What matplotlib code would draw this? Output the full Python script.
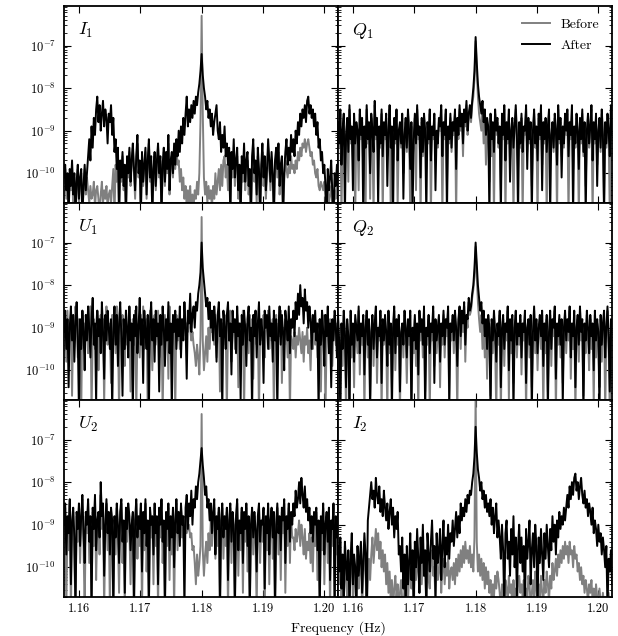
#!/usr/bin/env python

import matplotlib
matplotlib.use('Agg')
import matplotlib.pyplot as plt
import numpy as np

matplotlib.rcParams['font.family'] = 'serif'
matplotlib.rcParams['font.serif'] = ['cmr10', 'DejaVu Serif']
matplotlib.rcParams['mathtext.fontset'] = 'cm'
matplotlib.rcParams['axes.formatter.use_mathtext'] = True

TICKFONT = 9
LABELFONT = {'fontsize': 10}
PANELFONT = {'fontsize': 13}

# frequency grid of the spectra (Hz)
FREQ_START = 1.1575
FREQ_STOP = 1.2025

# spectral power, given as 10*log10(power)
# (e.g. -92 means 10**-9.2)
i1_before = [-102, -99, -106, -101, -110, -100, -104, -98, -108, -101, -110, -103, -99, -107, -102, -100, -110, -104, -99, -105,
             -101, -104, -107, -103, -106, -105, -102, -108, -104, -103, -106, -110, -105, -102, -107, -104, -106, -103, -108, -105,
             -104, -107, -103, -99, -110, -98, -102, -95, -110, -98, -102, -96, -104, -99, -110, -97, -101, -95, -103, -98,
             -94, -100, -106, -97, -93, -101, -98, -110, -96, -103, -99, -95, -106, -98, -93, -102, -97, -110, -100, -96,
             -104, -98, -94, -101, -97, -110, -99, -95, -103, -96, -100, -93, -105, -98, -96, -101, -95, -99, -94, -98,
             -97, -102, -99, -104, -101, -106, -103, -108, -104, -107, -103, -109, -105, -108, -104, -106, -102, -105, -100, -88,
             -63, -86, -101, -105, -102, -107, -103, -106, -104, -108, -103, -106, -100, -105, -102, -99, -104, -98, -103, -97,
             -96, -101, -98, -104, -96, -110, -97, -101, -95, -103, -99, -96, -106, -100, -110, -98, -102, -95, -104, -99,
             -97, -105, -101, -110, -98, -94, -102, -99, -107, -96, -101, -110, -100, -95, -103, -98, -106, -101, -94, -99,
             -104, -97, -102, -110, -99, -96, -101, -95, -105, -100, -98, -110, -102, -97, -99, -101, -98, -100, -96, -99,
             -98, -100, -97, -99, -95, -97, -94, -96, -93, -94, -92, -95, -93, -92, -94, -96, -95, -98, -97, -100,
             -101, -99, -103, -104, -102, -103, -104, -102, -106, -110, -104, -107, -105, -103, -108, -110, -104, -106, -102, -105,
             -107]
i1_after = [-101, -98, -104, -100, -110, -99, -103, -97, -105, -100, -110, -102, -98, -106, -101, -99, -110, -103, -98, -104,
            -100, -96, -92, -97, -89, -94, -87, -91, -85, -82, -88, -84, -90, -86, -83, -89, -85, -87, -93, -86,
            -88, -84, -91, -87, -95, -92, -99, -94, -110, -97, -101, -95, -103, -98, -110, -96, -100, -94, -102, -97,
            -93, -99, -104, -96, -91, -100, -97, -110, -95, -102, -98, -94, -105, -97, -92, -101, -96, -110, -99, -95,
            -103, -97, -93, -100, -96, -110, -98, -94, -102, -95, -99, -91, -104, -97, -95, -100, -93, -98, -92, -96,
            -90, -95, -89, -93, -87, -91, -86, -82, -89, -85, -88, -84, -87, -83, -86, -82, -84, -81, -79, -76,
            -72, -77, -80, -82, -85, -83, -87, -85, -89, -86, -91, -88, -86, -84, -90, -92, -88, -95, -91, -94,
            -89, -96, -93, -98, -94, -110, -95, -99, -92, -101, -97, -94, -104, -98, -110, -96, -100, -93, -102, -97,
            -95, -103, -99, -110, -96, -92, -100, -97, -105, -94, -99, -110, -98, -93, -101, -96, -104, -99, -92, -97,
            -102, -95, -100, -110, -97, -94, -99, -93, -103, -98, -96, -110, -100, -95, -92, -98, -94, -97, -91, -95,
            -92, -96, -90, -93, -88, -91, -86, -89, -85, -87, -84, -88, -83, -82, -86, -84, -87, -85, -89, -86,
            -91, -88, -94, -92, -97, -95, -100, -98, -103, -110, -99, -104, -101, -97, -105, -110, -100, -103, -98, -102,
            -104]

q1_before = [-89, -94, -86, -110, -91, -87, -96, -92, -88, -102, -85, -93, -90, -97, -87, -110, -89, -91, -104, -86,
             -92, -88, -99, -90, -110, -85, -93, -89, -106, -87, -91, -110, -84, -92, -88, -97, -90, -94, -86, -110,
             -89, -92, -87, -96, -91, -85, -110, -90, -99, -88, -93, -86, -108, -91, -89, -94, -87, -100, -92, -88,
             -95, -86, -91, -110, -89, -97, -93, -87, -104, -85, -92, -90, -110, -88, -96, -87, -91, -99, -89, -93,
             -86, -110, -90, -92, -87, -97, -91, -94, -88, -90, -85, -110, -89, -92, -86, -103, -90, -93, -87, -95,
             -89, -91, -86, -110, -88, -92, -85, -90, -87, -96, -86, -89, -84, -91, -87, -85, -88, -84, -82, -78,
             -69, -76, -82, -86, -88, -90, -85, -93, -86, -98, -88, -90, -102, -87, -96, -89, -110, -86, -91, -88,
             -94, -90, -104, -87, -92, -85, -110, -89, -93, -86, -97, -91, -88, -110, -90, -85, -92, -99, -89, -94,
             -87, -110, -90, -91, -85, -95, -88, -93, -89, -103, -91, -86, -94, -90, -110, -87, -92, -85, -98, -89,
             -93, -88, -110, -90, -86, -97, -92, -89, -95, -87, -91, -110, -85, -93, -88, -96, -90, -94, -87, -91,
             -86, -110, -89, -92, -85, -99, -90, -94, -87, -91, -110, -88, -93, -86, -96, -89, -103, -91, -87, -94,
             -90, -85, -110, -89, -93, -87, -98, -91, -88, -95, -86, -92, -107, -89, -94, -87, -91, -110, -85, -92,
             -89]
q1_after = [-88, -93, -85, -98, -90, -86, -110, -91, -87, -95, -84, -92, -89, -104, -86, -93, -88, -90, -97, -85,
            -91, -87, -110, -89, -94, -84, -92, -88, -100, -86, -90, -95, -83, -91, -87, -108, -89, -93, -85, -96,
            -88, -91, -86, -103, -90, -84, -94, -89, -110, -87, -92, -85, -97, -90, -88, -93, -86, -106, -91, -87,
            -94, -85, -90, -99, -88, -110, -92, -86, -93, -84, -91, -89, -101, -87, -95, -86, -90, -110, -88, -92,
            -85, -97, -89, -91, -86, -104, -90, -93, -87, -89, -84, -96, -88, -91, -85, -110, -89, -92, -86, -94,
            -88, -90, -85, -99, -87, -91, -84, -89, -86, -93, -85, -88, -83, -90, -86, -84, -87, -83, -80, -76,
            -68, -74, -79, -82, -84, -86, -83, -88, -85, -91, -87, -89, -110, -86, -92, -88, -95, -85, -90, -87,
            -93, -89, -110, -86, -91, -84, -97, -88, -92, -85, -102, -90, -87, -94, -89, -84, -91, -110, -88, -93,
            -86, -95, -89, -90, -84, -99, -87, -92, -88, -110, -90, -85, -93, -89, -97, -86, -91, -84, -104, -88,
            -92, -87, -95, -89, -85, -110, -91, -88, -94, -86, -90, -98, -84, -92, -87, -101, -89, -93, -86, -90,
            -85, -96, -88, -91, -84, -110, -89, -93, -86, -90, -99, -87, -92, -85, -95, -88, -110, -90, -86, -93,
            -89, -84, -97, -88, -92, -86, -103, -90, -87, -94, -85, -91, -110, -88, -93, -86, -90, -96, -84, -91,
            -88]

u1_before = [-92, -88, -98, -86, -95, -91, -87, -106, -89, -93, -85, -90, -97, -88, -92, -110, -86, -94, -89, -91,
             -87, -96, -90, -85, -110, -92, -88, -95, -89, -86, -100, -91, -87, -93, -88, -108, -90, -85, -94, -89,
             -91, -103, -87, -92, -88, -96, -85, -90, -110, -89, -93, -87, -91, -99, -86, -94, -90, -88, -105, -92,
             -88, -94, -86, -110, -91, -89, -97, -87, -92, -85, -95, -90, -88, -110, -93, -86, -91, -100, -89, -87,
             -94, -90, -86, -97, -91, -88, -110, -92, -87, -93, -89, -102, -85, -91, -96, -88, -90, -110, -87, -93,
             -89, -95, -88, -91, -92, -87, -90, -89, -91, -88, -90, -93, -91, -94, -96, -99, -94, -97, -101, -92,
             -64, -93, -100, -96, -92, -98, -90, -95, -89, -91, -88, -94, -87, -97, -90, -88, -105, -92, -89, -94,
             -87, -91, -110, -89, -93, -86, -98, -90, -88, -95, -91, -87, -104, -92, -89, -94, -86, -110, -90, -93,
             -89, -96, -87, -91, -88, -102, -90, -86, -94, -89, -110, -92, -88, -93, -87, -97, -91, -89, -86, -95,
             -90, -93, -88, -110, -91, -87, -96, -89, -92, -86, -103, -90, -94, -88, -91, -97, -89, -110, -92, -93,
             -95, -91, -97, -92, -94, -90, -93, -96, -91, -98, -92, -94, -90, -96, -93, -100, -91, -95, -89, -94,
             -89, -97, -91, -88, -105, -90, -93, -87, -110, -92, -89, -95, -88, -91, -99, -90, -87, -94, -89, -92,
             -96]
u1_after = [-91, -86, -95, -88, -104, -90, -85, -93, -87, -98, -89, -84, -92, -110, -88, -95, -86, -91, -100, -87,
            -93, -85, -90, -97, -88, -83, -94, -89, -108, -86, -92, -88, -96, -84, -91, -102, -87, -93, -86, -90,
            -95, -88, -110, -91, -85, -94, -87, -99, -89, -84, -92, -106, -88, -95, -86, -90, -97, -85, -93, -89,
            -110, -87, -92, -85, -96, -90, -83, -94, -88, -103, -86, -91, -95, -87, -110, -89, -84, -93, -88, -98,
            -86, -92, -89, -105, -87, -94, -85, -90, -99, -88, -93, -84, -96, -89, -110, -87, -91, -86, -95, -88,
            -92, -85, -97, -88, -93, -84, -90, -102, -86, -89, -82, -91, -87, -85, -90, -84, -86, -82, -80, -77,
            -70, -76, -79, -82, -85, -83, -88, -84, -90, -86, -93, -85, -89, -98, -87, -84, -92, -88, -110, -86,
            -90, -95, -87, -84, -93, -89, -101, -86, -91, -88, -96, -85, -92, -89, -107, -87, -94, -86, -90, -99,
            -88, -85, -93, -90, -110, -87, -92, -86, -97, -89, -84, -94, -88, -91, -103, -86, -90, -87, -95, -85,
            -92, -89, -98, -86, -93, -88, -110, -90, -85, -94, -87, -91, -100, -86, -89, -93, -85, -96, -88, -90,
            -86, -92, -84, -88, -82, -87, -80, -85, -83, -89, -81, -86, -84, -90, -85, -88, -95, -87, -91, -86,
            -93, -89, -110, -88, -94, -86, -91, -99, -87, -92, -85, -96, -89, -104, -88, -93, -86, -90, -97, -88,
            -92]

q2_before = [-88, -96, -110, -90, -99, -87, -93, -110, -89, -95, -108, -87, -97, -90, -104, -88, -92, -96, -86, -101,
             -90, -94, -88, -110, -91, -87, -97, -89, -106, -92, -88, -99, -90, -86, -103, -91, -93, -87, -110, -89,
             -94, -88, -93, -110, -87, -96, -90, -104, -91, -86, -100, -89, -94, -88, -110, -92, -90, -97, -87, -92,
             -103, -89, -94, -87, -110, -91, -96, -88, -99, -90, -110, -87, -93, -89, -97, -86, -105, -91, -94, -88,
             -110, -90, -93, -86, -99, -89, -96, -91, -88, -104, -90, -94, -87, -97, -89, -92, -86, -110, -90, -93,
             -88, -96, -87, -92, -110, -89, -86, -95, -87, -91, -85, -98, -88, -90, -84, -87, -86, -83, -81, -78,
             -71, -78, -84, -88, -91, -87, -95, -88, -97, -89, -102, -88, -93, -106, -89, -96, -87, -94, -110, -90,
             -94, -87, -110, -91, -88, -99, -90, -93, -86, -107, -89, -96, -88, -103, -91, -87, -97, -90, -94, -88,
             -101, -90, -93, -87, -110, -91, -89, -97, -88, -104, -92, -86, -96, -89, -100, -91, -88, -95, -87, -110,
             -90, -96, -88, -105, -92, -87, -99, -89, -92, -86, -110, -90, -94, -88, -97, -89, -103, -91, -87, -96,
             -89, -93, -86, -102, -90, -95, -87, -110, -91, -88, -98, -86, -93, -89, -106, -90, -96, -87, -92, -100,
             -88, -95, -90, -108, -87, -97, -89, -93, -104, -88, -98, -90, -87, -110, -91, -86, -95, -110, -89, -93,
             -90]
q2_after = [-87, -93, -110, -89, -95, -86, -91, -104, -88, -92, -110, -86, -94, -89, -98, -87, -90, -93, -85, -96,
            -89, -92, -87, -101, -90, -86, -94, -88, -110, -91, -87, -95, -89, -85, -97, -90, -92, -86, -103, -88,
            -93, -87, -91, -99, -86, -94, -89, -110, -90, -85, -96, -88, -92, -87, -105, -91, -89, -94, -86, -90,
            -97, -88, -92, -86, -110, -90, -93, -87, -95, -89, -101, -86, -91, -88, -94, -85, -110, -90, -92, -87,
            -96, -89, -91, -85, -103, -88, -93, -90, -87, -98, -89, -92, -86, -94, -88, -90, -85, -107, -89, -91,
            -87, -93, -86, -90, -99, -88, -85, -92, -86, -89, -84, -94, -87, -88, -83, -86, -85, -82, -80, -76,
            -70, -75, -80, -83, -86, -84, -89, -86, -92, -88, -95, -87, -90, -110, -88, -93, -86, -91, -98, -89,
            -92, -86, -104, -90, -87, -95, -89, -91, -85, -100, -88, -93, -87, -110, -90, -86, -94, -89, -92, -87,
            -97, -89, -91, -86, -103, -90, -88, -94, -87, -110, -91, -85, -93, -88, -96, -90, -87, -92, -86, -99,
            -89, -93, -87, -110, -91, -86, -95, -88, -90, -85, -102, -89, -92, -87, -94, -88, -108, -90, -86, -93,
            -88, -91, -85, -97, -89, -92, -86, -104, -90, -87, -94, -85, -91, -88, -110, -89, -93, -86, -90, -96,
            -87, -92, -89, -100, -86, -93, -88, -91, -110, -87, -94, -89, -86, -97, -90, -85, -92, -105, -88, -91,
            -89]

u2_before = [-91, -86, -110, -89, -96, -85, -110, -90, -87, -98, -110, -88, -94, -86, -99, -89, -84, -95, -110, -88,
             -92, -85, -99, -89, -110, -87, -95, -84, -103, -90, -88, -97, -83, -91, -86, -110, -92, -85, -96, -88,
             -110, -87, -92, -110, -89, -97, -86, -93, -106, -88, -85, -99, -90, -110, -87, -94, -86, -91, -104, -91,
             -88, -110, -91, -85, -98, -89, -95, -86, -110, -88, -96, -85, -101, -90, -110, -87, -93, -89, -104, -86,
             -95, -89, -110, -87, -93, -85, -99, -90, -110, -88, -95, -86, -103, -89, -97, -87, -110, -90, -85, -96,
             -88, -93, -86, -93, -90, -97, -88, -92, -91, -90, -93, -92, -96, -95, -99, -104, -97, -102, -99, -95,
             -64, -96, -102, -97, -94, -99, -92, -96, -89, -95, -90, -86, -98, -89, -95, -87, -110, -90, -86, -98,
             -89, -95, -87, -110, -90, -86, -99, -88, -93, -110, -89, -85, -102, -90, -96, -87, -106, -88, -94, -86,
             -101, -89, -110, -91, -87, -97, -88, -94, -110, -89, -86, -99, -90, -94, -87, -110, -89, -96, -86, -104,
             -90, -87, -98, -88, -110, -91, -86, -97, -89, -103, -87, -92, -85, -106, -89, -95, -86, -99, -88, -93,
             -93, -96, -91, -94, -92, -89, -95, -90, -93, -97, -91, -98, -94, -96, -92, -99, -93, -101, -90, -95,
             -87, -103, -90, -110, -89, -96, -86, -104, -91, -88, -99, -87, -110, -90, -95, -86, -110, -89, -97, -88,
             -93]
u2_after = [-90, -85, -97, -88, -92, -84, -104, -89, -86, -93, -110, -87, -91, -85, -95, -88, -83, -92, -99, -87,
            -90, -84, -94, -88, -110, -86, -91, -83, -96, -89, -87, -93, -80, -88, -85, -102, -90, -84, -92, -87,
            -97, -86, -89, -110, -88, -93, -85, -90, -99, -87, -84, -94, -89, -106, -86, -91, -85, -88, -96, -90,
            -87, -110, -89, -84, -93, -88, -91, -85, -101, -87, -92, -84, -95, -89, -110, -86, -90, -88, -97, -85,
            -92, -88, -104, -86, -90, -84, -94, -89, -110, -87, -91, -85, -96, -88, -93, -86, -100, -89, -84, -92,
            -87, -95, -85, -90, -88, -110, -86, -83, -91, -85, -88, -82, -90, -84, -86, -81, -84, -80, -78, -75,
            -72, -76, -79, -83, -81, -86, -84, -89, -85, -92, -87, -84, -97, -88, -91, -86, -110, -89, -85, -93,
            -88, -91, -86, -103, -89, -85, -94, -87, -90, -110, -88, -84, -96, -89, -92, -86, -99, -87, -91, -85,
            -95, -88, -110, -90, -86, -93, -87, -91, -101, -88, -85, -94, -89, -90, -86, -105, -88, -92, -85, -97,
            -89, -86, -93, -87, -110, -90, -85, -92, -88, -96, -86, -89, -84, -99, -88, -91, -85, -94, -87, -90,
            -85, -88, -82, -86, -84, -80, -85, -79, -83, -86, -81, -87, -84, -89, -86, -92, -88, -94, -87, -90,
            -86, -96, -89, -110, -88, -92, -85, -97, -90, -87, -94, -86, -103, -89, -91, -85, -110, -88, -93, -87,
            -91]

i2_before = [-96, -104, -94, -110, -99, -110, -95, -102, -107, -98, -110, -100, -94, -108, -99, -103, -110, -97, -105, -100,
             -96, -110, -102, -95, -101, -110, -104, -98, -103, -97, -93, -99, -95, -91, -96, -92, -98, -94, -100, -96,
             -101, -97, -104, -99, -106, -101, -108, -103, -110, -105, -102, -107, -104, -110, -106, -103, -108, -110, -105, -107,
             -104, -108, -102, -99, -105, -101, -110, -98, -103, -96, -101, -106, -99, -104, -97, -102, -100, -110, -98, -103,
             -105, -99, -96, -102, -100, -108, -97, -103, -101, -96, -106, -100, -98, -104, -99, -102, -97, -105, -101, -100,
             -103, -99, -104, -98, -102, -97, -101, -96, -100, -95, -99, -94, -98, -96, -99, -95, -100, -97, -101, -93,
             -59, -94, -101, -97, -102, -98, -103, -99, -105, -100, -104, -101, -106, -103, -108, -104, -107, -102, -105, -101,
             -103, -106, -110, -104, -107, -110, -103, -105, -108, -102, -106, -104, -110, -103, -107, -105, -110, -104, -102, -106,
             -104, -107, -103, -110, -105, -108, -102, -104, -109, -106, -103, -108, -101, -105, -110, -104, -107, -102, -106, -108,
             -103, -106, -101, -104, -108, -102, -105, -99, -103, -101, -98, -102, -97, -100, -96, -99, -95, -98, -94, -97,
             -95, -99, -94, -97, -96, -100, -95, -98, -97, -101, -99, -103, -100, -104, -102, -106, -103, -105, -108, -104,
             -106, -103, -108, -105, -110, -104, -107, -109, -105, -108, -110, -106, -109, -107, -110, -108, -106, -110, -109, -107,
             -108]
i2_after = [-95, -101, -93, -105, -97, -110, -94, -99, -103, -96, -110, -98, -92, -104, -97, -100, -110, -95, -102, -98,
            -94, -106, -99, -92, -97, -110, -89, -86, -83, -80, -84, -82, -86, -79, -83, -85, -81, -87, -84, -88,
            -82, -86, -89, -85, -91, -87, -84, -90, -86, -93, -88, -91, -87, -97, -95, -101, -93, -105, -97, -110,
            -95, -104, -99, -92, -103, -96, -110, -94, -100, -91, -98, -106, -93, -99, -90, -102, -96, -110, -92, -97,
            -101, -94, -89, -98, -95, -107, -92, -99, -96, -91, -103, -95, -89, -100, -93, -97, -90, -98, -92, -94,
            -89, -95, -91, -87, -93, -88, -92, -85, -89, -86, -88, -84, -87, -83, -85, -82, -83, -80, -78, -74,
            -67, -73, -77, -79, -82, -80, -84, -82, -86, -83, -87, -85, -88, -84, -90, -86, -92, -88, -85, -93,
            -89, -93, -98, -90, -96, -110, -92, -89, -98, -94, -102, -91, -97, -88, -100, -93, -107, -95, -90, -99,
            -93, -101, -95, -110, -91, -98, -94, -89, -104, -96, -92, -100, -90, -95, -110, -93, -99, -91, -97, -103,
            -92, -98, -90, -95, -100, -91, -96, -88, -94, -90, -97, -89, -93, -87, -91, -88, -90, -86, -89, -86,
            -83, -86, -81, -84, -80, -83, -79, -78, -82, -80, -84, -81, -79, -83, -85, -82, -86, -84, -88, -85,
            -87, -90, -86, -92, -89, -91, -95, -90, -94, -92, -97, -93, -96, -100, -95, -110, -98, -101, -96, -104,
            -100]

panel_names = [r'$I_1$', r'$Q_1$', r'$U_1$', r'$Q_2$', r'$U_2$', r'$I_2$']
before_data = [i1_before, q1_before, u1_before, q2_before, u2_before, i2_before]
after_data = [i1_after, q1_after, u1_after, q2_after, u2_after, i2_after]
xticks = [1.16, 1.17, 1.18, 1.19, 1.20]

fig, axes = plt.subplots(3, 2, sharex=True, sharey=True, figsize=(6.18, 6.36), dpi=100)
fig.subplots_adjust(left=0.1036, right=0.9903, top=0.9906, bottom=0.0613,
                    hspace=0, wspace=0)

for k, ax in enumerate(axes.flat):
    before = np.power(10.0, np.array(before_data[k]) / 10.0)
    after = np.power(10.0, np.array(after_data[k]) / 10.0)
    ax.plot(np.linspace(FREQ_START, FREQ_STOP, len(before)), before,
            color='#808080', linewidth=1.4, label='Before')
    ax.plot(np.linspace(FREQ_START, FREQ_STOP, len(after)), after,
            color='black', linewidth=1.4, label='After')
    ax.set_yscale('log')
    ax.text(0.05, 0.925, panel_names[k], transform=ax.transAxes,
            va='top', ha='left', fontdict=PANELFONT)
    ax.tick_params(which='both', direction='in', top=True, right=True,
                   labelsize=TICKFONT)
    ax.tick_params(which='major', length=5, width=0.8, pad=4)
    ax.tick_params(which='minor', length=2.5, width=0.6)
    for sp in ax.spines.values():
        sp.set_linewidth(1.3)

ax0 = axes[0, 0]
ax0.set_xlim(FREQ_START, 1.2023)
ax0.set_ylim(2e-11, 8.5e-7)
ax0.set_xticks(xticks)
ax0.set_xticklabels(['%.2f' % t for t in xticks])
ax0.set_yticks([1e-10, 1e-9, 1e-8, 1e-7])
for ax in axes[:, 0]:
    ax.tick_params(axis='y', pad=6)

axes[0, 1].legend(loc='upper right', frameon=False, fontsize=10,
                  handlelength=2.0, borderaxespad=0.5, labelspacing=0.55)

fig.text(0.548, 0.002, 'Frequency (Hz)', ha='center', va='bottom', fontdict=LABELFONT)

plt.savefig('out.png', dpi=100)
plt.clf()
